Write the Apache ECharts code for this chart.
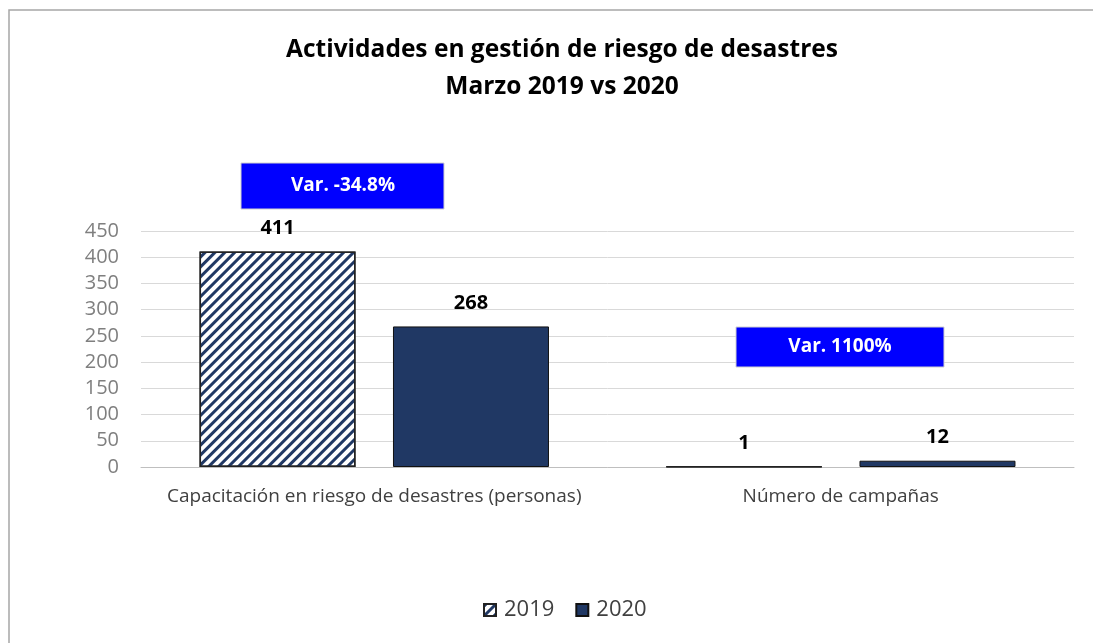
<!DOCTYPE html>
<html>
<head>
<meta charset="utf-8">
<script src="https://cdn.jsdelivr.net/npm/echarts@6/dist/echarts.min.js"></script>
<style>
  html, body { margin: 0; padding: 0; background: #fff; }
  #main { width: 1093px; height: 643px; }
</style>
</head>
<body>
<div id="main"></div>
<script>
// datos del gráfico
var categorias = ['Capacitación en riesgo de desastres (personas)', 'Número de campañas'];
var anios = ['2019', '2020'];
var valores2019 = [411, 1];
var valores2020 = [268, 12];
var variaciones = ['Var. -34.8%', 'Var. 1100%'];
var ticksY = [0, 50, 100, 150, 200, 250, 300, 350, 400, 450];

var navy = '#203864';
var fuente = '"Open Sans", Lato, sans-serif';

var chart = echarts.init(document.getElementById('main'));

var option = {
  backgroundColor: '#fff',
  animation: false,
  title: {
    text: 'Actividades en gestión de riesgo de desastres\nMarzo 2019 vs 2020',
    left: 557,
    textAlign: 'center',
    top: 27,
    textStyle: {
      fontFamily: fuente,
      fontSize: 24.5,
      fontWeight: 'bold',
      color: '#000',
      lineHeight: 37
    }
  },
  legend: {
    bottom: 17,
    left: 478,
    itemWidth: 12,
    itemHeight: 12,
    itemGap: 21,
    icon: 'rect',
    textStyle: { fontFamily: fuente, fontSize: 22, color: '#404040', padding: [0, 0, 0, 3] },
    data: anios
  },
  grid: {
    left: 141,
    right: 19,
    top: 231,
    bottom: 176
  },
  xAxis: {
    type: 'category',
    data: categorias,
    axisLine: { lineStyle: { color: '#bfbfbf', width: 1 } },
    axisTick: { show: false },
    axisLabel: {
      interval: 0,
      fontFamily: fuente,
      fontSize: 19,
      color: '#404040',
      margin: 20
    }
  },
  yAxis: {
    type: 'value',
    min: ticksY[0],
    max: ticksY[ticksY.length - 1],
    interval: 50,
    axisLine: { show: false },
    axisTick: { show: false },
    splitLine: { lineStyle: { color: '#d9d9d9', width: 1 } },
    axisLabel: {
      fontFamily: fuente,
      fontSize: 20,
      color: '#7f7f7f',
      margin: 22
    }
  },
  series: [
    {
      name: anios[0],
      type: 'bar',
      data: valores2019,
      barWidth: 156,
      barGap: '24%',
      itemStyle: {
        color: '#fff',
        borderColor: '#222',
        borderWidth: 1.5,
        decal: {
          symbol: 'rect',
          symbolSize: 1,
          dashArrayX: [1, 0],
          dashArrayY: [3, 3.5],
          rotation: -Math.PI / 4,
          color: navy
        }
      },
      label: {
        show: true,
        position: 'top',
        distance: 13,
        fontFamily: fuente,
        fontSize: 20,
        fontWeight: 'bold',
        color: '#000'
      }
    },
    {
      name: anios[1],
      type: 'bar',
      data: valores2020,
      barWidth: 156,
      itemStyle: {
        color: navy,
        borderColor: '#111',
        borderWidth: 1
      },
      label: {
        show: true,
        position: 'top',
        distance: 13,
        fontFamily: fuente,
        fontSize: 20,
        fontWeight: 'bold',
        color: '#000'
      }
    }
  ],
  graphic: [
    {
      type: 'rect',
      shape: { x: 9, y: 10, width: 1200, height: 1000 },
      style: { fill: 'none', stroke: '#a6a6a6', lineWidth: 1.5 },
      silent: true
    },
    {
      type: 'rect', z: 100,
      shape: { x: 241, y: 163, width: 203, height: 46 },
      style: { fill: '#0000ff', stroke: '#d0d0d0', lineWidth: 1 }
    },
    {
      type: 'text', z: 101,
      style: { x: 343, y: 186, text: variaciones[0], fill: '#fff', font: 'bold 19px ' + fuente, align: 'center', verticalAlign: 'middle' }
    },
    {
      type: 'rect', z: 100,
      shape: { x: 736, y: 327, width: 208, height: 40 },
      style: { fill: '#0000ff', stroke: '#d0d0d0', lineWidth: 1 }
    },
    {
      type: 'text', z: 101,
      style: { x: 840, y: 347, text: variaciones[1], fill: '#fff', font: 'bold 19px ' + fuente, align: 'center', verticalAlign: 'middle' }
    }
  ]
};

chart.setOption(option);
</script>
</body>
</html>
